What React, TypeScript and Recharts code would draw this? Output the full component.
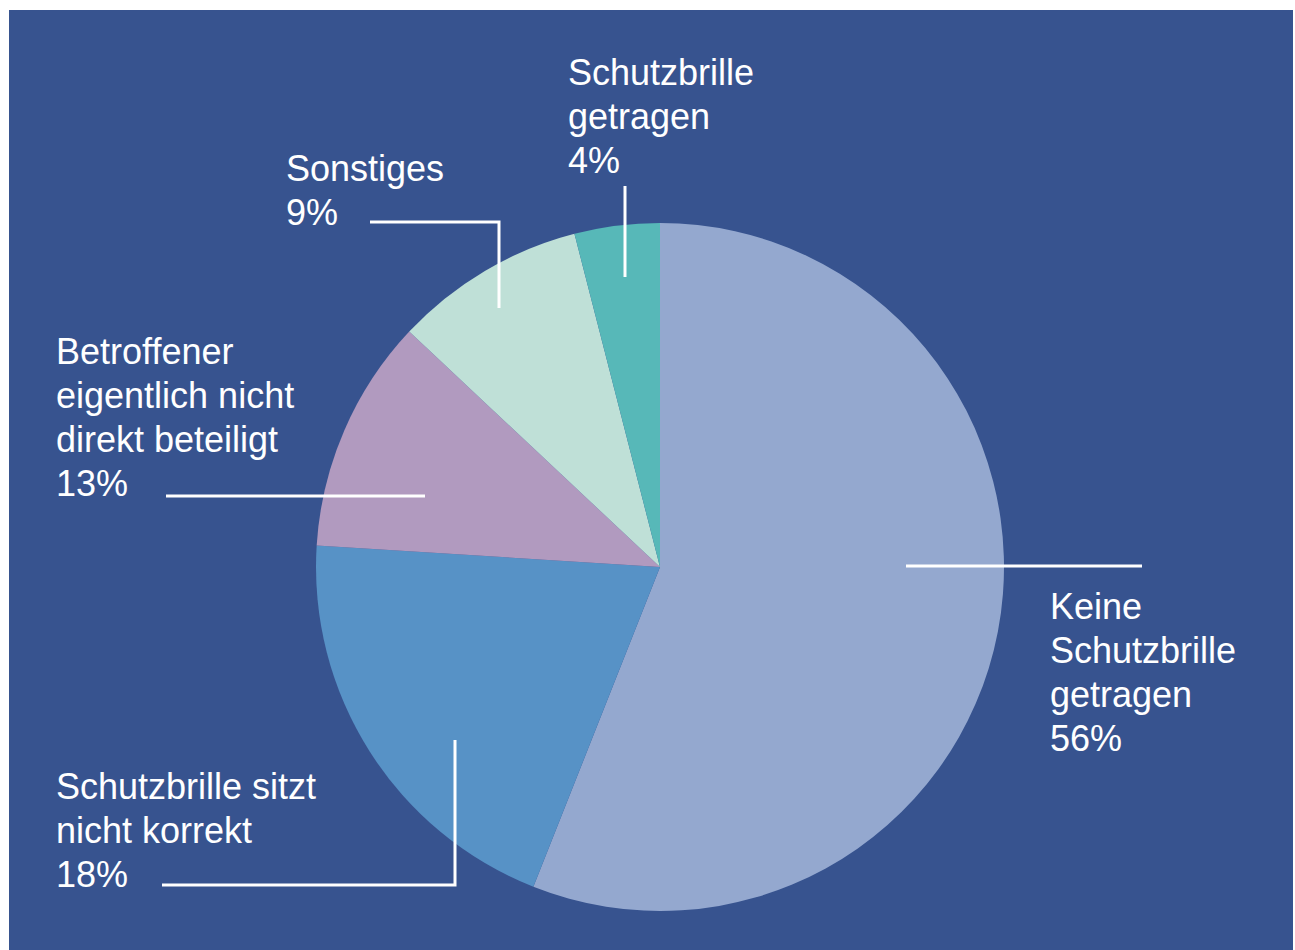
import { PieChart, Pie, Cell } from 'recharts';

const categories = [
  'Keine Schutzbrille getragen',
  'Schutzbrille sitzt nicht korrekt',
  'Betroffener eigentlich nicht direkt beteiligt',
  'Sonstiges',
  'Schutzbrille getragen',
];
// slice sizes as drawn in the picture (the printed labels differ slightly)
const values = [56, 20, 11, 9, 4];
const labelLines = [
  ['Keine', 'Schutzbrille', 'getragen', '56%'],
  ['Schutzbrille sitzt', 'nicht korrekt', '18%'],
  ['Betroffener', 'eigentlich nicht', 'direkt beteiligt', '13%'],
  ['Sonstiges', '9%'],
  ['Schutzbrille', 'getragen', '4%'],
];
const colors = ['#94a8cf', '#5792c6', '#b19abf', '#bfe0d7', '#57b8b8'];

// label placement relative to pie centre: leader polyline and text origin
const layout = [
  { pts: [[246, -1], [482, -1]], tx: 390, ty: 52 },
  { pts: [[-205, 173], [-205, 318], [-498, 318]], tx: -604, ty: 232 },
  { pts: [[-494, -71], [-235, -71]], tx: -604, ty: -203 },
  { pts: [[-290, -345], [-161, -345], [-161, -259]], tx: -374, ty: -386 },
  { pts: [[-35, -381], [-35, -290]], tx: -92, ty: -482 },
];

const data = categories.map((name, i) => ({ name, value: values[i] }));

const BG = '#37538f';
const FONT = '"Liberation Sans", Arial, Helvetica, sans-serif';

function SliceLabel(props: any) {
  const { cx, cy, index } = props;
  const l = layout[index];
  const pts = l.pts.map(([x, y]) => `${cx + x},${cy + y}`).join(' ');
  return (
    <g>
      <polyline points={pts} fill="none" stroke="#fff" strokeWidth={3} />
      <text x={cx + l.tx} y={cy + l.ty} fill="#fff" fontSize={36} fontFamily={FONT}>
        {labelLines[index].map((line, k) => (
          <tspan key={k} x={cx + l.tx} dy={k === 0 ? 0 : 44}>
            {line}
          </tspan>
        ))}
      </text>
    </g>
  );
}

export default function App() {
  return (
    <div style={{ position: 'absolute', left: 0, top: 0, width: 1295, height: 950, background: '#fff' }}>
      <div style={{ position: 'absolute', left: 9, top: 10, width: 1284, height: 940, background: BG }}>
        <PieChart width={1284} height={940} margin={{ top: 0, right: 0, bottom: 0, left: 0 }}>
          <Pie
            data={data}
            dataKey="value"
            nameKey="name"
            cx={651}
            cy={557}
            outerRadius={344}
            startAngle={90}
            endAngle={-270}
            stroke="none"
            label={SliceLabel}
            labelLine={false}
            isAnimationActive={false}
          >
            {data.map((d, i) => (
              <Cell key={d.name} fill={colors[i]} />
            ))}
          </Pie>
        </PieChart>
      </div>
    </div>
  );
}
